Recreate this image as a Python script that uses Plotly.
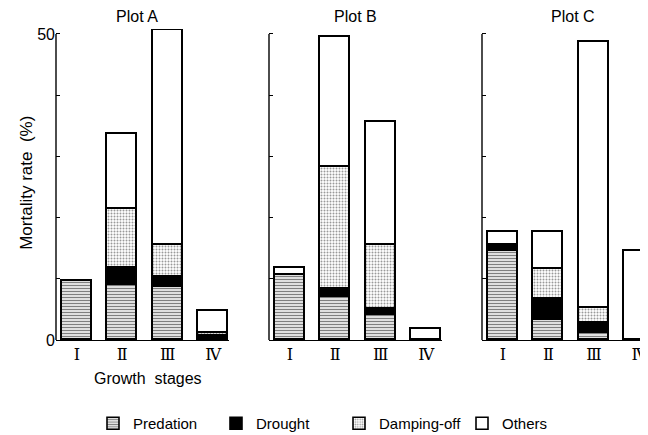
import plotly.graph_objects as go

# ---------------- data ----------------
stages = ["Ⅰ", "Ⅱ", "Ⅲ", "Ⅳ"]
plots = ["Plot A", "Plot B", "Plot C"]
causes = ["Predation", "Drought", "Damping-off", "Others"]

# mortality (%) per cause, per growth stage (I..IV)
plotA_predation = [9.7, 9.0, 8.7, 0.0]
plotA_drought = [0.0, 2.7, 1.6, 0.6]
plotA_damping = [0.0, 9.7, 5.2, 0.5]
plotA_others = [0.0, 12.3, 35.1, 3.6]

plotB_predation = [10.6, 7.1, 4.1, 0.0]
plotB_drought = [0.0, 1.2, 0.9, 0.0]
plotB_damping = [0.0, 20.0, 10.6, 0.0]
plotB_others = [1.1, 21.2, 20.0, 1.8]

plotC_predation = [14.6, 3.3, 1.2, 0.0]
plotC_drought = [0.9, 3.4, 1.6, 0.0]
plotC_damping = [0.0, 4.9, 2.5, 0.0]
plotC_others = [2.2, 6.1, 43.3, 14.6]

y_ticks = [0, 10, 20, 30, 40, 50]
y_ticktext_first = ["0", "", "", "", "", "50"]

# ---------------- layout helpers ----------------
# The page body has an 8px margin, so the figure is drawn 8px in from the
# window's corner; all screen positions below are shifted by OFF.
OFF = 8
W, H = 648 - OFF, 435 - OFF
Y0_PX, TOP_PX = 340.0 - OFF, 29.4 - OFF
PLOT_H = Y0_PX - TOP_PX


def px_x(px):
    return (px - OFF) / W


def px_y(py):
    return (Y0_PX - (py - OFF)) / PLOT_H


FONT = "Liberation Sans, Arial, sans-serif"
NUM_FONT = "DejaVu Serif, Liberation Serif, serif"

styles = {
    "Predation": dict(color="white",
                      pattern=dict(shape="-", size=3, solidity=0.5,
                                   fgcolor="black", bgcolor="white", fillmode="overlay")),
    "Drought": dict(color="black"),
    "Damping-off": dict(color="white",
                        pattern=dict(shape=".", size=3, solidity=0.35,
                                     fgcolor="#333333", bgcolor="white", fillmode="overlay")),
    "Others": dict(color="white"),
}

series = [
    [plotA_predation, plotA_drought, plotA_damping, plotA_others],
    [plotB_predation, plotB_drought, plotB_damping, plotB_others],
    [plotC_predation, plotC_drought, plotC_damping, plotC_others],
]

fig = go.Figure()
x_pos = list(range(len(stages)))
for p, panel in enumerate(series):
    xa = "x" if p == 0 else f"x{p + 1}"
    ya = "y" if p == 0 else f"y{p + 1}"
    for c, cause in enumerate(causes):
        m = dict(styles[cause])
        m["line"] = dict(color="black", width=1.6)
        fig.add_trace(go.Bar(
            x=x_pos, y=panel[c], name=cause, legendgroup=cause,
            showlegend=(p == 0), marker=m, width=0.66,
            xaxis=xa, yaxis=ya, hoverinfo="skip",
        ))

# panel domains (screen px)
domains = [(56, 229), (269, 442), (482, 648)]
ranges = [(-0.46, 3.35), (-0.46, 3.35), (-0.46, 3.19)]

layout = dict(
    width=W, height=H,
    margin=dict(l=0, r=0, t=TOP_PX, b=H - Y0_PX, pad=0, autoexpand=False),
    paper_bgcolor="white", plot_bgcolor="white",
    barmode="stack", bargap=0,
    font=dict(family=FONT, size=15, color="black"),
    legend=dict(orientation="h", xref="container", yref="container",
                x=(93 - OFF) / W, y=1 - (407 - OFF) / H, xanchor="left", yanchor="top",
                entrywidth=78, entrywidthmode="pixels", traceorder="normal",
                font=dict(family=FONT, size=15), itemwidth=30),
)
for p in range(3):
    sx = "" if p == 0 else str(p + 1)
    d0, d1 = domains[p]
    layout[f"xaxis{sx}"] = dict(
        domain=[px_x(d0), min(1.0, px_x(d1))], range=list(ranges[p]),
        tickvals=x_pos, ticktext=stages, showgrid=False, zeroline=False,
        showline=True, linecolor="black", linewidth=1.4, ticks="",
        tickfont=dict(family=NUM_FONT, size=16), anchor="y" + sx,
        ticklabeloverflow="allow", fixedrange=True,
    )
    layout[f"yaxis{sx}"] = dict(
        domain=[0, 1], range=[0, 50.8], anchor="x" + sx,
        tickvals=y_ticks,
        ticktext=y_ticktext_first if p == 0 else [""] * len(y_ticks),
        showticklabels=(p == 0),
        ticks="inside", ticklen=4, tickwidth=1, tickcolor="black",
        showgrid=False, zeroline=False, showline=False,
        tickfont=dict(family=FONT, size=16), fixedrange=True,
    )
fig.update_layout(**layout)

# y axis lines up to 50
for p in range(3):
    sx = "" if p == 0 else str(p + 1)
    fig.add_shape(type="line", xref=f"x{sx} domain", yref=f"y{sx}",
                  x0=0, x1=0, y0=0, y1=y_ticks[-1],
                  line=dict(color="black", width=1.4))

# panel titles
title_px = [137, 355, 573]
for p in range(3):
    fig.add_annotation(text=plots[p], x=px_x(title_px[p]), y=px_y(17),
                       xref="paper", yref="paper", showarrow=False,
                       font=dict(family=FONT, size=16), xanchor="center", yanchor="middle")

fig.add_annotation(text="Mortality rate  (%)", x=px_x(27), y=px_y(183),
                   xref="paper", yref="paper", showarrow=False, textangle=-90,
                   font=dict(family=FONT, size=17), xanchor="center", yanchor="middle")
fig.add_annotation(text="Growth  stages", x=px_x(148), y=px_y(378),
                   xref="paper", yref="paper", showarrow=False,
                   font=dict(family=FONT, size=16), xanchor="center", yanchor="middle")

fig.write_html("out.html")
